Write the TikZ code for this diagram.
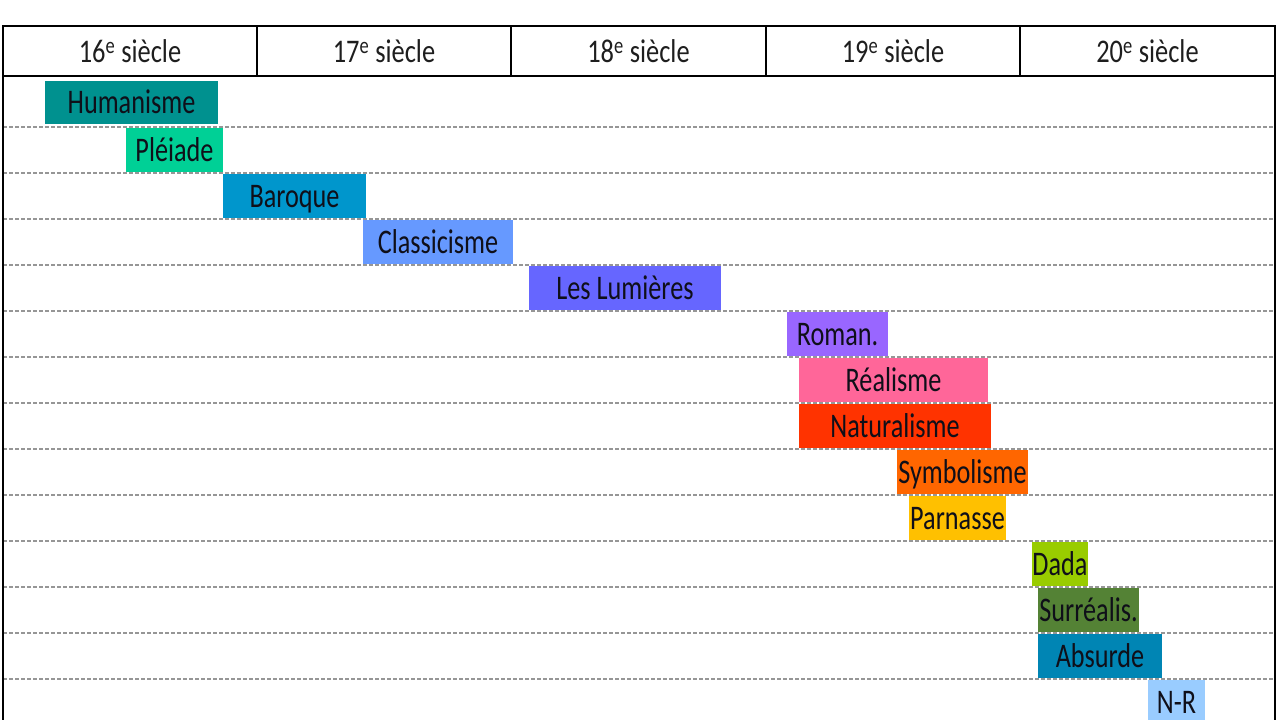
\documentclass[tikz,border=0pt]{standalone}
\usepackage{fontspec}
\setmainfont{Carlito}
\newfontfamily\barfont[FakeStretch=0.76]{Carlito}
\newfontfamily\headfont[FakeStretch=0.8]{Carlito}
\definecolor{cHum}{RGB}{0,145,143}
\definecolor{cPle}{RGB}{0,208,150}
\definecolor{cBar}{RGB}{0,150,204}
\definecolor{cCla}{RGB}{102,153,255}
\definecolor{cLum}{RGB}{102,102,255}
\definecolor{cRom}{RGB}{153,102,255}
\definecolor{cRea}{RGB}{255,102,153}
\definecolor{cNat}{RGB}{255,51,0}
\definecolor{cSym}{RGB}{255,102,0}
\definecolor{cPar}{RGB}{255,192,0}
\definecolor{cDad}{RGB}{153,204,0}
\definecolor{cSur}{RGB}{84,130,53}
\definecolor{cAbs}{RGB}{0,133,180}
\definecolor{cNR}{RGB}{153,204,255}
\definecolor{txt}{RGB}{15,15,25}
\definecolor{htxt}{RGB}{30,30,30}
\definecolor{rowgray}{RGB}{150,150,150}
\begin{document}
\begin{tikzpicture}[x=1pt,y=-1pt,
  frame/.style={line width=2.6pt,black},
  rowline/.style={line width=1.6pt,rowgray,dash pattern=on 4pt off 2pt},
  head/.style={font=\headfont\fontsize{33}{37}\selectfont,text=htxt,inner sep=0pt},
  bar/.style={font=\barfont\fontsize{34.5}{38}\selectfont,text=txt,inner sep=0pt,
    text height=22pt,text depth=0pt}]
\useasboundingbox (0,0) rectangle (1280,720);
\fill[white] (0,0) rectangle (1280,720);
% row lines
\foreach \yy in {127,173,219,265,311,357,403,449,495,541,587,633,679}
  \draw[rowline] (3,\yy) -- (1275,\yy);
% frame
\draw[frame] (3,722) -- (3,26) -- (1275,26) -- (1275,722);
\draw[frame] (3,76) -- (1275,76);
\foreach \xx in {257,511,766,1020}
  \draw[frame] (\xx,26) -- (\xx,76);
% headers
\node[head] (c16) at (130,51) {16\textsuperscript{e} siècle};
\node[head] (c17) at (384,51) {17\textsuperscript{e} siècle};
\node[head] (c18) at (638.5,51) {18\textsuperscript{e} siècle};
\node[head] (c19) at (893,51) {19\textsuperscript{e} siècle};
\node[head] (c20) at (1147.5,51) {20\textsuperscript{e} siècle};
% bars
\node[bar,fill=cHum,minimum width=173,minimum height=43] (hum) at (131.5,102.5) {Humanisme};
\node[bar,fill=cPle,minimum width=97,minimum height=44] (ple) at (174.5,150) {Pléiade};
\node[bar,fill=cBar,minimum width=143,minimum height=44] (bar) at (294.5,196) {Baroque};
\node[bar,fill=cCla,minimum width=150,minimum height=44] (cla) at (438,242) {Classicisme};
\node[bar,fill=cLum,minimum width=192,minimum height=44] (lum) at (625,288) {Les Lumières};
\node[bar,fill=cRom,minimum width=101,minimum height=44] (rom) at (837.5,334) {Roman.};
\node[bar,fill=cRea,minimum width=189,minimum height=44] (rea) at (893.5,380) {Réalisme};
\node[bar,fill=cNat,minimum width=192,minimum height=44] (nat) at (895,426) {Naturalisme};
\node[bar,fill=cSym,minimum width=131,minimum height=44] (sym) at (962.5,472) {Symbolisme};
\node[bar,fill=cPar,minimum width=97,minimum height=44] (par) at (957.5,518) {Parnasse};
\node[bar,fill=cDad,minimum width=56,minimum height=44] (dad) at (1060,564) {Dada};
\node[bar,fill=cSur,minimum width=101,minimum height=44] (sur) at (1088.5,610) {Surréalis.};
\node[bar,fill=cAbs,minimum width=124,minimum height=44] (abs) at (1100,656) {Absurde};
\node[bar,fill=cNR,minimum width=57,minimum height=44] (nr) at (1176.5,702) {N-R};
\end{tikzpicture}
\end{document}
